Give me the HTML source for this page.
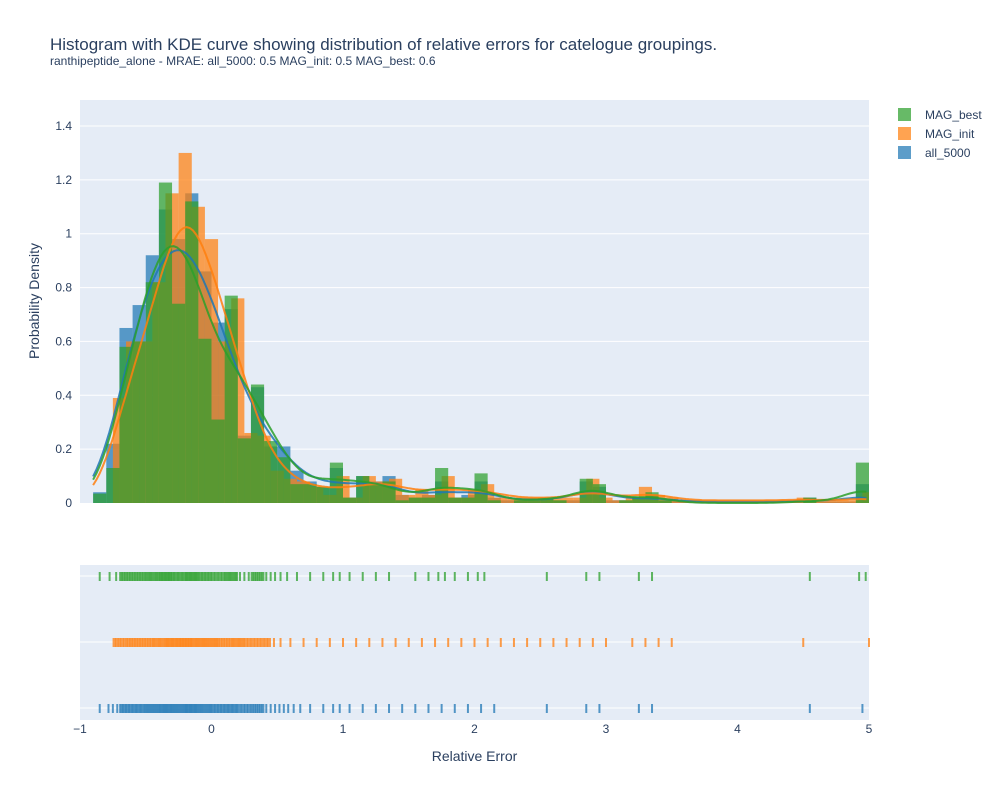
<!DOCTYPE html>
<html><head><meta charset="utf-8"><style>
body{margin:0;background:#fff;font-family:"Liberation Sans",sans-serif}
svg text{font-family:"Liberation Sans",sans-serif;fill:#2a3f5f}
</style></head><body>
<svg id="chart" width="1000" height="800" xmlns="http://www.w3.org/2000/svg">
<rect width="1000" height="800" fill="#fff"/>
<text x="50" y="50" font-size="17">Histogram with KDE curve showing distribution of relative errors for catelogue groupings.</text>
<text x="50" y="65" font-size="12">ranthipeptide_alone - MRAE: all_5000: 0.5 MAG_init: 0.5 MAG_best: 0.6</text>
<rect x="80" y="100" width="789" height="403" fill="#e5ecf6"/>
<rect x="80" y="565" width="789" height="155" fill="#e5ecf6"/>
<g id="grid"></g><g id="bars"></g><g id="lines"></g><g id="rug"></g><g id="axes"></g>
<text transform="translate(39,301) rotate(-90)" text-anchor="middle" font-size="14">Probability Density</text>
<text x="474.5" y="761" text-anchor="middle" font-size="14">Relative Error</text>
<g id="legend"></g>
</svg>
<script>
const seriesNames = ["all_5000","MAG_init","MAG_best"];
const seriesColors = ["#1f77b4","#ff7f0e","#2ca02c"];
const binStarts = [-0.9,-0.95,-0.9];
const binWidth = 0.1;
const blueVals = [0.04,0.22,0.65,0.735,0.92,1.09,0.98,1.15,0.86,0.67,0.72,0.25,0.43,0.21,0.21,0.12,0.08,0.06,0.13,0.02,0.10,0.08,0.10,0.03,0.02,0.03,0.08,0.02,0.03,0.08,0.02,0.01,0.01,0.01,0.02,0.01,0.01,0.08,0.06,0.01,0.01,0.02,0.03,0.01,0.01,0.005,0.005,0.005,0.005,0.005,0.005,0.005,0.005,0.005,0.02,0.005,0.005,0.005,0.07];
const orangeVals = [0.0,0.0,0.39,0.6,0.6,0.82,1.15,1.30,1.10,0.98,0.6,0.76,0.26,0.25,0.12,0.09,0.08,0.06,0.03,0.10,0.02,0.10,0.08,0.09,0.03,0.05,0.03,0.10,0.02,0.05,0.07,0.02,0.02,0.02,0.02,0.02,0.02,0.02,0.09,0.02,0.01,0.02,0.06,0.03,0.02,0.01,0.01,0.01,0.01,0.01,0.01,0.01,0.01,0.01,0.02,0.01,0.01,0.01,0.01,0.04];
const greenVals = [0.035,0.13,0.58,0.60,0.82,1.19,0.74,1.12,0.61,0.31,0.77,0.24,0.44,0.23,0.17,0.07,0.07,0.06,0.15,0.02,0.10,0.07,0.08,0.01,0.02,0.02,0.13,0.02,0.02,0.11,0.01,0.0,0.01,0.01,0.02,0.01,0.0,0.09,0.07,0.0,0.01,0.02,0.04,0.01,0.0,0.0,0.0,0.0,0.0,0.0,0.0,0.0,0.0,0.0,0.02,0.0,0.0,0.0,0.15];
const allVals = [blueVals, orangeVals, greenVals];
const yTicks = [0,0.2,0.4,0.6,0.8,1,1.2,1.4];
const yTickLabels = ["0","0.2","0.4","0.6","0.8","1","1.2","1.4"];
const xTicks = [-1,0,1,2,3,4,5];
const xTickLabels = ["−1","0","1","2","3","4","5"];
const rugRows = [708,642,576];

const NS="http://www.w3.org/2000/svg";
const X = v => 80 + (v+1)*789/6;
const Y = v => 503 - v*(377/1.4);
function mk(tag, attrs, parent){const e=document.createElementNS(NS,tag);for(const k in attrs)e.setAttribute(k,attrs[k]);document.getElementById(parent).appendChild(e);return e;}

yTicks.forEach((t,i)=>{
  if(t>0){const g=mk("line",{x1:80,x2:869,y1:Y(t),y2:Y(t),stroke:"#fff","stroke-width":1},"grid");
  
  }
  const l=mk("text",{x:72,y:Y(t)+4,"text-anchor":"end","font-size":12},"axes");l.textContent=yTickLabels[i];
  
  
});
rugRows.forEach(r=>{const g=mk("line",{x1:80,x2:869,y1:r,y2:r,stroke:"#fff","stroke-width":1},"grid");
  
  });
xTicks.forEach((t,i)=>{
  const l=mk("text",{x:X(t),y:733,"text-anchor":"middle","font-size":12},"axes");l.textContent=xTickLabels[i];
  
  
});

allVals.forEach((vals,s)=>{
  vals.forEach((v,i)=>{
    if(v<=0)return;
    const x0=binStarts[s]+i*binWidth;
    if(x0>=5)return;
    const x1=Math.min(x0+binWidth,5);
    const xa=Math.max(x0,-1);
    const b=mk("rect",{x:X(xa),y:Y(v),width:X(x1)-X(xa),height:Y(0)-Y(v),fill:seriesColors[s],"fill-opacity":0.72},"bars");
    
    
  });
  const bw=0.15;let d="";const minX=-0.9,maxX=4.98;
  const tot=vals.reduce((a,b)=>a+b,0)*binWidth;
  for(let k=0;k<=240;k++){
    const x=minX+(maxX-minX)*k/240;let y=0;
    vals.forEach((v,i)=>{const c=binStarts[s]+(i+0.5)*binWidth;const z=(x-c)/bw;y+=v*binWidth*Math.exp(-0.5*z*z)/(bw*Math.sqrt(2*Math.PI));});
    y/=tot;
    d+=(k?"L":"M")+X(x).toFixed(1)+","+Y(y).toFixed(1);
  }
  const p=mk("path",{d:d,fill:"none",stroke:seriesColors[s],"stroke-width":2,"stroke-opacity":0.85},"lines");
  
  
  vals.forEach((v,i)=>{
    if(v<0.015)return;
    const n=Math.max(1,Math.round(v*14));
    const x0=binStarts[s]+i*binWidth;
    for(let j=0;j<n;j++){
      const xv=x0+binWidth*(j+0.5)/n;
      if(xv<-1||xv>5)continue;
      const w=n>3?binWidth*789/6/n+0.6:2;
      const r=mk("rect",{x:X(xv)-w/2,y:rugRows[s]-4,width:w,height:9,fill:seriesColors[s],"fill-opacity":0.75},"rug");
      
      
    }
  });
});

const legendOrder=[2,1,0];
legendOrder.forEach((s,i)=>{
  const y=114+i*19;
  const sq=mk("rect",{x:898,y:y-6,width:13,height:13,fill:seriesColors[s],"fill-opacity":0.72},"legend");
  
  
  const t=mk("text",{x:925,y:y+5,"font-size":12},"legend");t.textContent=seriesNames[s];
  
  
});
</script>
</body></html>
